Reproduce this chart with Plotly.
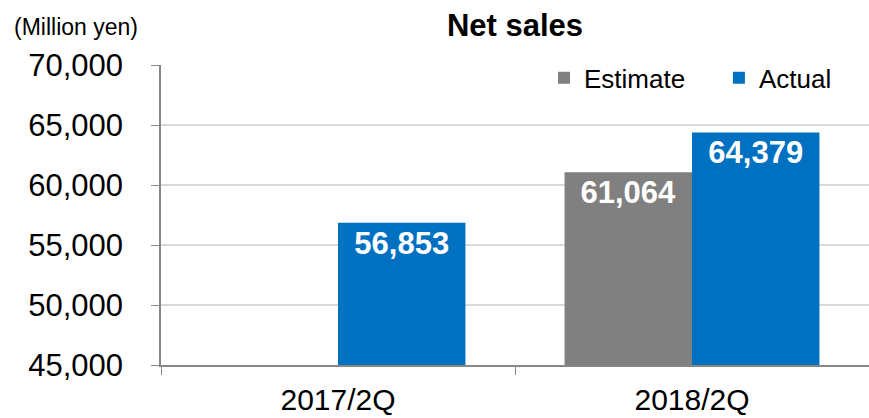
import plotly.graph_objects as go

# Net sales by half-year, in million yen
periods = ["2017/2Q", "2018/2Q"]
estimate = [None, 61064]
actual = [56853, 64379]

series_names = ["Estimate", "Actual"]
series_colors = ["#808080", "#0070C0"]
legend_ids = ["legend", "legend2"]

FONT = "Liberation Sans, Arial, sans-serif"


def fmt(values):
    return [f"{v:,}" if v is not None else "" for v in values]


fig = go.Figure()
for name, values, color, lg in zip(series_names, [estimate, actual], series_colors, legend_ids):
    fig.add_trace(go.Bar(
        name=name,
        x=periods,
        y=values,
        legend=lg,
        marker=dict(color=color, line=dict(width=0)),
        text=fmt(values),
        textposition="inside",
        insidetextanchor="end",
        textangle=0,
        textfont=dict(family=FONT, size=31, color="white", weight="bold"),
        cliponaxis=False,
    ))

legend_style = dict(
    orientation="h",
    xanchor="left",
    y=0.957, yanchor="middle",
    font=dict(family=FONT, size=26, color="black"),
    bgcolor="rgba(0,0,0,0)",
)

fig.update_layout(
    width=869,
    height=418,
    margin=dict(l=161, r=0, t=65, b=53, autoexpand=False),
    paper_bgcolor="white",
    plot_bgcolor="white",
    barmode="group",
    bargap=0.28,
    bargroupgap=0,
    font=dict(family=FONT, color="black"),
    title=dict(
        text="<b>Net sales</b>",
        x=0.5, xref="paper", xanchor="center",
        y=1 - 25 / 418, yref="container", yanchor="middle",
        font=dict(family=FONT, size=31, color="black"),
    ),
    legend=dict(x=0.541, **legend_style),
    legend2=dict(x=0.788, **legend_style),
    showlegend=True,
)

fig.update_yaxes(
    range=[45000, 70000],
    dtick=5000,
    tickformat=",d",
    showgrid=True,
    gridcolor="#D9D9D9",
    gridwidth=1.5,
    showline=True,
    linecolor="#868686",
    linewidth=1.5,
    ticks="outside",
    ticklen=8,
    tickcolor="#868686",
    ticklabelstandoff=22,
    tickfont=dict(family=FONT, size=31, color="black"),
    zeroline=False,
    automargin=False,
)

fig.update_xaxes(
    showline=True,
    linecolor="#868686",
    linewidth=1.5,
    ticks="outside",
    tickson="boundaries",
    ticklen=8,
    tickcolor="#868686",
    ticklabelstandoff=7,
    tickfont=dict(family=FONT, size=30, color="black"),
    showgrid=False,
    automargin=False,
)

# unit label above the value axis
fig.add_annotation(
    text="(Million yen)",
    x=-(161 - 12) / 708, xref="paper", xanchor="left",
    y=(365 - 27) / 300, yref="paper", yanchor="middle",
    showarrow=False,
    font=dict(family=FONT, size=23, color="black"),
)

fig.write_html("out.html")
